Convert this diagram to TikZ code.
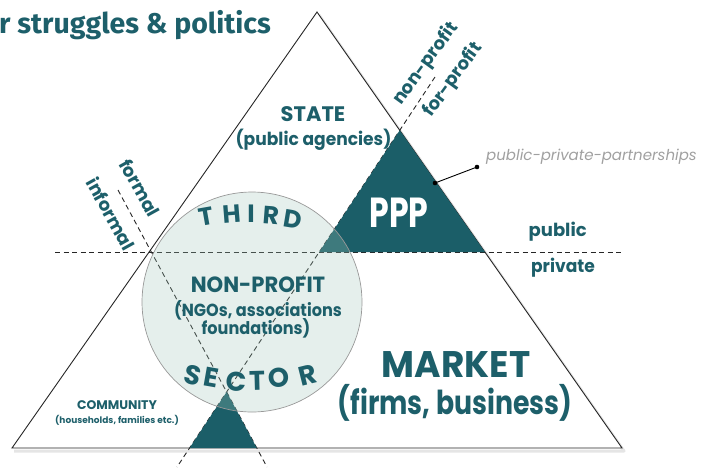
\documentclass[tikz,border=0pt]{standalone}
\usepackage{fontspec}
\setmainfont{Poppins}
\newfontfamily\titlefont{Fira Sans}
\definecolor{tealfill}{RGB}{27,94,104}
\definecolor{tealtxt}{RGB}{29,95,106}
\definecolor{circfill}{RGB}{159,198,185}
\definecolor{ppgray}{RGB}{160,160,160}
\newcommand\fsz[2]{\fontsize{#1}{#2}\selectfont}
\begin{document}
\begin{tikzpicture}[x=1pt,y=-1pt,
  txt/.style={text=tealtxt,inner sep=0pt,align=center},
  dline/.style={draw=black!85,line width=0.9pt,dash pattern=on 5pt off 3.5pt},
  tealtri/.style={fill=tealfill,draw=none},
  arcletter/.style={text=tealtxt,inner sep=0pt,font=\fsz{25}{29}\bfseries},
  arcletterb/.style={text=tealtxt,inner sep=0pt,font=\fsz{27}{31}\bfseries}]
\useasboundingbox (0,0) rectangle (709,467);
% main triangle corners
\coordinate (T) at (317,12);
\coordinate (BL) at (12,448);
\coordinate (BR) at (622,448);
% helper points of the dashed lines
\coordinate (H1) at (55,252);
\coordinate (H2) at (622,252);
\coordinate (A1) at (435,77);
\coordinate (A2) at (177,467);
\coordinate (B1) at (118,190);
\coordinate (B2) at (267,467);
% derived points
\coordinate (P1) at (intersection of A1--A2 and T--BR);
\coordinate (P2) at (intersection of A1--A2 and H1--H2);
\coordinate (P3) at (intersection of H1--H2 and T--BR);
\coordinate (Q1) at (intersection of A1--A2 and B1--B2);
\coordinate (Q2) at (intersection of A1--A2 and BL--BR);
\coordinate (Q3) at (intersection of B1--B2 and BL--BR);
% shadow + main triangle
\draw[black!10,line width=3pt,line join=round] ([shift={(2,3)}]BL) -- ([shift={(2,3)}]BR) -- ([shift={(2,3)}]T);
\draw[fill=white,draw=black!85,line width=0.9pt,line join=miter] (T) -- (BL) -- (BR) -- cycle;
% dashed lines
\draw[dline] (H1) -- (H2);
\draw[dline] (A1) -- (A2);
\draw[dline] (B1) -- (B2);
% dark triangles
\fill[tealtri] (P1) -- (P2) -- (P3) -- cycle;
\fill[tealtri] (Q1) -- (Q2) -- (Q3) -- cycle;
% third sector circle
\draw[fill=circfill,fill opacity=0.27,draw=black!40,line width=0.7pt] (252,302) circle (110pt);
% pointer to PPP
\coordinate (c1) at (435,183);
\coordinate (c2) at (477,167);
\draw[black,line width=0.9pt] (c1) -- (c2);
\fill[black] (c1) circle (2.3pt);
\fill[black] (c2) circle (2.3pt);
\node[anchor=west,inner sep=0pt,text=ppgray,font=\fsz{15}{18}\itshape] (pppl) at (486,157) {public-private-partnerships};
% title
\node[anchor=base west,inner sep=0pt,text=tealtxt,font=\titlefont\fsz{28.5}{32}\bfseries] (title) at (-1,33) {r struggles \& politics};
% labels
\node[txt,font=\fsz{21}{25}\bfseries] (state) at (313,114.5) {STATE};
\node[txt,font=\fsz{18}{22}\bfseries,xscale=0.95] (statesub) at (313.5,139.5) {(public agencies)};
\node[txt,text=white,font=\fsz{42}{46}\bfseries,xscale=0.75] (ppp) at (399,213) {PPP};
\node[txt,font=\fsz{18}{22}\bfseries] (public) at (557.7,231.7) {public};
\node[txt,font=\fsz{18}{22}\bfseries,xscale=0.95] (private) at (563,268) {private};
\node[txt,font=\fsz{22}{26}\bfseries,xscale=0.96] (np) at (258,285) {NON-PROFIT};
\node[txt,font=\fsz{17.5}{20}\bfseries,xscale=0.92] (np2) at (258,310) {(NGOs, associations};
\node[txt,font=\fsz{17.5}{20}\bfseries,xscale=0.92] (np3) at (256,328) {foundations)};
\node[txt,font=\fsz{37}{42}\bfseries,xscale=0.97] (market) at (456,365) {MARKET};
\node[txt,font=\fsz{33}{38}\bfseries,xscale=0.81] (market2) at (455,403) {(firms, business)};
\node[txt,font=\fsz{12.5}{15}\bfseries] (comm) at (117,405) {COMMUNITY};
\node[txt,font=\fsz{9}{11}\bfseries] (comm2) at (117,420) {(households, families etc.)};
\node[txt,font=\fsz{18}{22}\bfseries,rotate=-61] (formal) at (140,188) {formal};
\node[txt,font=\fsz{18}{22}\bfseries,rotate=-61] (informal) at (111,214) {informal};
\node[txt,font=\fsz{18}{22}\bfseries,rotate=54] (nonprofit) at (426,64) {non-profit};
\node[txt,font=\fsz{18}{22}\bfseries,rotate=54] (forprofit) at (453,80) {for-profit};
% THIRD
\node[arcletter,rotate=10] (t1) at (206,217) {T};
\node[arcletter,rotate=4.5] (t2) at (232,214.5) {H};
\node[arcletter,rotate=0] (t3) at (251,214) {I};
\node[arcletter,rotate=-4.5] (t4) at (271,215) {R};
\node[arcletter,rotate=-9.5] (t5) at (293,219) {D};
% SECTOR
\node[arcletterb,rotate=-14] (s1) at (193,375) {S};
\node[arcletterb,rotate=-10] (s2) at (211,377) {E};
\node[arcletterb,rotate=-4] (s3) at (236,382) {C};
\node[arcletterb,rotate=1.5] (s4) at (257,381) {T};
\node[arcletterb,rotate=7] (s5) at (279,378) {O};
\node[arcletterb,rotate=14] (s6) at (308,375) {R};
\end{tikzpicture}
\end{document}
